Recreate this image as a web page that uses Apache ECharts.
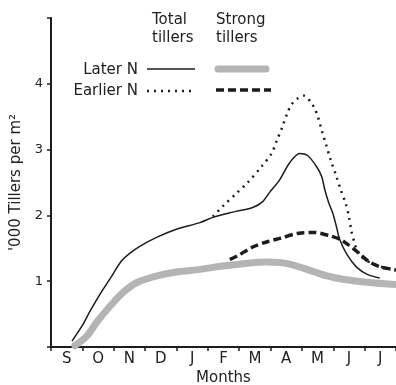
<!DOCTYPE html>
<html lang="en">
<head>
    <meta charset="UTF-8">
    <title>Tillers</title>
    <style>
        html, body { margin: 0; padding: 0; background: #fff; }
    </style>
</head>
<body>
<div id="chart_tillers" style="width:396px;height:385px;"></div>
<script src="https://cdn.jsdelivr.net/npm/echarts@6/dist/echarts.min.js"></script>
<script>
    // months from start of September, '000 tillers per m2
    var months = ['S', 'O', 'N', 'D', 'J', 'F', 'M', 'A', 'M', 'J', 'J'];
    var yTicks = [1, 2, 3, 4];

    var laterTotal = [
        [0.67, 0.09], [0.99, 0.32], [1.24, 0.54], [1.56, 0.8], [1.9, 1.05], [2.25, 1.31],
        [2.5, 1.42], [2.83, 1.53], [3.38, 1.67], [4.0, 1.79], [4.75, 1.89], [5.16, 1.97],
        [5.8, 2.05], [6.43, 2.12], [6.75, 2.21], [6.97, 2.35], [7.29, 2.54], [7.61, 2.8],
        [7.93, 2.94], [8.18, 2.91], [8.47, 2.74], [8.63, 2.59], [8.73, 2.39], [8.85, 2.2],
        [8.98, 2.04], [9.1, 1.83], [9.2, 1.64], [9.43, 1.41], [9.75, 1.21], [10.1, 1.1],
        [10.48, 1.05]
    ];
    var earlierTotal = [
        [5.16, 1.98], [5.5, 2.15], [5.9, 2.33], [6.27, 2.5], [6.71, 2.74], [7.03, 2.94],
        [7.21, 3.15], [7.38, 3.35], [7.54, 3.56], [7.66, 3.68], [7.84, 3.77], [8.07, 3.82],
        [8.27, 3.73], [8.41, 3.62], [8.51, 3.5], [8.64, 3.28], [8.78, 3.06], [8.92, 2.84],
        [9.08, 2.62], [9.23, 2.4], [9.39, 2.19], [9.5, 1.98], [9.58, 1.76], [9.66, 1.61],
        [9.75, 1.48], [9.89, 1.38], [10.07, 1.31], [10.32, 1.26], [10.58, 1.21], [10.9, 1.18],
        [11, 1.17]
    ];
    var laterStrong = [
        [0.76, 0.02], [1.15, 0.17], [1.46, 0.38], [1.88, 0.62], [2.3, 0.83], [2.74, 0.98],
        [3.38, 1.08], [4.0, 1.14], [4.75, 1.18], [5.48, 1.23], [6.2, 1.27], [6.88, 1.29],
        [7.61, 1.26], [8.34, 1.15], [8.8, 1.08], [9.3, 1.03], [10.16, 0.98], [11, 0.95]
    ];
    var earlierStrong = [
        [5.7, 1.33], [6.0, 1.4], [6.43, 1.52], [6.9, 1.6], [7.29, 1.65], [7.9, 1.73],
        [8.4, 1.74], [8.89, 1.69], [9.2, 1.64], [9.46, 1.56], [9.78, 1.44], [10.1, 1.31],
        [10.48, 1.22], [10.9, 1.18], [11, 1.17]
    ];

    echart_tillers();

    function echart_tillers() {
        var myChart = echarts.init(document.getElementById('chart_tillers'));
        var ink = '#1c1c1c';
        var font = 'DejaVu Sans';

        var legendText = function (x, y, text, align) {
            return {
                type: 'text', x: x, y: y,
                style: { text: text, fill: '#222', font: '15px "' + font + '"', align: align || 'left', verticalAlign: 'middle' }
            };
        };
        var legendLine = function (x1, x2, y, style) {
            return { type: 'line', shape: { x1: x1, y1: y, x2: x2, y2: y }, style: style, z: 10 };
        };

        myChart.setOption({
            animation: false,
            grid: { left: 51, right: 0, top: 18, bottom: 38, outerBoundsMode: 'none', containLabel: false },
            xAxis: [{
                type: 'value',
                min: 0, max: 11, interval: 1,
                name: 'Months',
                nameLocation: 'middle',
                nameGap: 24,
                nameTextStyle: { color: '#222', fontSize: 15, fontFamily: font },
                axisLine: { show: true, lineStyle: { color: ink, width: 2 } },
                axisTick: { show: true, length: 4, lineStyle: { color: ink, width: 1.5 } },
                axisLabel: { show: false },
                splitLine: { show: false }
            }, {
                type: 'category',
                position: 'bottom',
                data: months,
                boundaryGap: true,
                axisLine: { show: false },
                axisTick: { show: false },
                axisLabel: { color: '#222', fontSize: 15, fontFamily: font, margin: 5 },
                splitLine: { show: false }
            }],
            yAxis: {
                type: 'value',
                min: 0, max: 5, interval: 1,
                name: '\'000 Tillers per m\u00b2',
                nameLocation: 'middle',
                nameGap: 20,
                nameTextStyle: { color: '#222', fontSize: 15, fontFamily: font },
                axisLine: { show: true, lineStyle: { color: ink, width: 2 } },
                axisTick: { show: true, length: 4, lineStyle: { color: ink, width: 1.5 } },
                axisLabel: {
                    color: '#222', fontSize: 13, fontFamily: font, margin: 8,
                    formatter: function (v) { return yTicks.indexOf(v) >= 0 ? v : ''; }
                },
                splitLine: { show: false }
            },
            graphic: [
                legendText(152, 20, 'Total'),
                legendText(152, 38, 'tillers'),
                legendText(216, 20, 'Strong'),
                legendText(216, 38, 'tillers'),
                legendText(138, 70, 'Later N', 'right'),
                legendText(138, 91, 'Earlier N', 'right'),
                legendLine(147, 195, 69, { stroke: ink, lineWidth: 1.5 }),
                legendLine(147, 195, 91, { stroke: ink, lineWidth: 2.5, lineDash: [2, 5] }),
                legendLine(218, 266, 69, { stroke: '#b4b4b4', lineWidth: 7, lineCap: 'round' }),
                legendLine(216, 271, 90, { stroke: ink, lineWidth: 3.5, lineDash: [8, 4] })
            ],
            series: [{
                name: 'Later N strong',
                type: 'line',
                data: laterStrong,
                smooth: 0.3,
                showSymbol: false,
                lineStyle: { color: '#b4b4b4', width: 7, cap: 'round' },
                z: 1
            }, {
                name: 'Earlier N strong',
                type: 'line',
                data: earlierStrong,
                smooth: 0.3,
                showSymbol: false,
                lineStyle: { color: ink, width: 3.5, type: [8, 4] },
                z: 3
            }, {
                name: 'Later N total',
                type: 'line',
                data: laterTotal,
                smooth: 0.3,
                showSymbol: false,
                lineStyle: { color: ink, width: 1.5 },
                z: 4
            }, {
                name: 'Earlier N total',
                type: 'line',
                data: earlierTotal,
                smooth: 0.3,
                showSymbol: false,
                lineStyle: { color: ink, width: 2.5, type: [2, 5] },
                z: 5
            }]
        });
        window.addEventListener("resize", function () {
            myChart.resize();
        });
    }
</script>
</body>
</html>
